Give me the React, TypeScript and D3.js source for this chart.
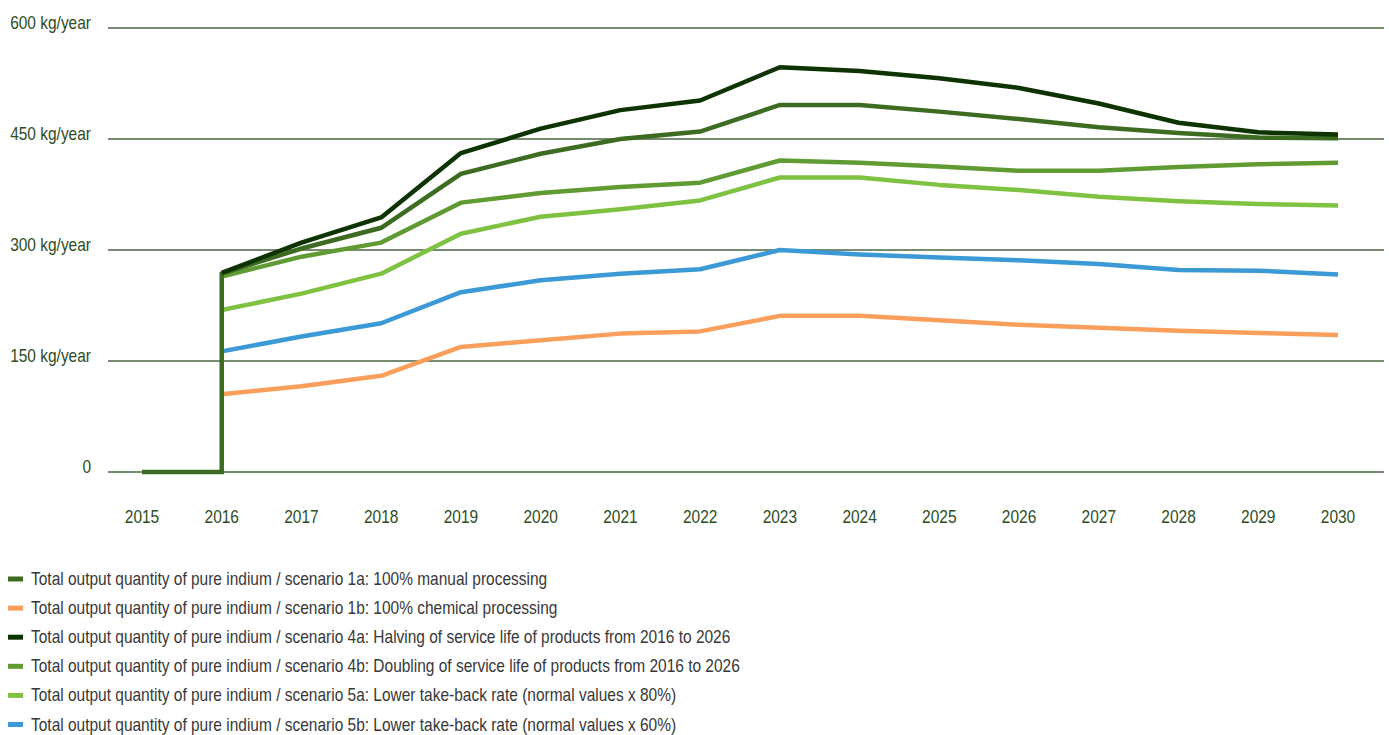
import * as d3 from 'd3';
import React from 'react';

const years = [2016, 2017, 2018, 2019, 2020, 2021, 2022, 2023, 2024, 2025, 2026, 2027, 2028, 2029, 2030];
const axisYears = [2015, 2016, 2017, 2018, 2019, 2020, 2021, 2022, 2023, 2024, 2025, 2026, 2027, 2028, 2029, 2030];
const yTicks = [0, 150, 300, 450, 600];

// scenario 1a starts flat at zero before jumping up in 2016
const rampYears = [2015, 2016];
const rampValues = [0, 0];

const s1a = [268, 302, 330, 403, 430, 450, 460, 496, 496, 487, 477, 466, 458, 452, 451];
const s1b = [105, 116, 130, 169, 178, 187, 190, 211, 211, 205, 199, 195, 191, 188, 185];
const s4a = [269, 310, 344, 431, 464, 489, 502, 547, 542, 532, 519, 498, 472, 459, 456];
const s4b = [264, 291, 310, 364, 377, 385, 391, 421, 418, 413, 407, 407, 412, 416, 418];
const s5a = [219, 241, 268, 322, 345, 355, 367, 398, 398, 388, 381, 372, 366, 362, 360];
const s5b = [163, 183, 201, 243, 259, 268, 274, 300, 294, 290, 286, 281, 273, 272, 267];

const labels = [
  'Total output quantity of pure indium / scenario 1a: 100% manual processing',
  'Total output quantity of pure indium / scenario 1b: 100% chemical processing',
  'Total output quantity of pure indium / scenario 4a: Halving of service life of products from 2016 to 2026',
  'Total output quantity of pure indium / scenario 4b: Doubling of service life of products from 2016 to 2026',
  'Total output quantity of pure indium / scenario 5a: Lower take-back rate (normal values x 80%)',
  'Total output quantity of pure indium / scenario 5b: Lower take-back rate (normal values x 60%)',
];
const colors = ['#3d6b21', '#f99f5b', '#0c3300', '#5f9b32', '#7fc242', '#3b99d6'];

type Pt = { year: number; value: number };

const font = '"Liberation Sans", Arial, sans-serif';
const squeeze = 0.88; // the original type is a narrow face

function Label(props: { x: number; y: number; anchor?: string; fill: string; children: React.ReactNode }) {
  return (
    <text
      transform={`translate(${props.x},${props.y}) scale(${squeeze},1)`}
      textAnchor={props.anchor || 'start'}
      fontFamily={font}
      fontSize={17.6}
      fill={props.fill}
    >
      {props.children}
    </text>
  );
}

function App() {
  const width = 1389;
  const height = 735;
  const textColor = '#2e4d25';

  const x = d3.scaleLinear().domain([2015, 2030]).range([142, 1338]);
  const y = d3.scaleLinear().domain([0, 600]).range([472, 28]);

  const line = d3.line<Pt>()
    .x((d) => x(d.year))
    .y((d) => y(d.value));

  const toPts = (vals: number[]): Pt[] => vals.map((v, i) => ({ year: years[i], value: v }));
  const ramp: Pt[] = rampYears.map((yr, i) => ({ year: yr, value: rampValues[i] }));

  const series = [s1a, s1b, s4a, s4b, s5a, s5b];
  // draw order: back to front
  const order = [5, 4, 3, 1, 0, 2];

  return (
    <svg width={width} height={height} style={{ position: 'absolute', left: 0, top: 0 }}>
      <rect width={width} height={height} fill="#ffffff" />
      <g>
        {yTicks.map((t) => (
          <g key={t}>
            <line x1={108} x2={1384} y1={y(t)} y2={y(t)} stroke="#4a6541" strokeWidth={1.5} />
            <Label x={91} y={y(t) + 0.5} anchor="end" fill={textColor}>
              {t === 0 ? '0' : `${t} kg/year`}
            </Label>
          </g>
        ))}
      </g>
      <g>
        {axisYears.map((yr) => (
          <Label key={yr} x={x(yr)} y={522.5} anchor="middle" fill={textColor}>
            {yr}
          </Label>
        ))}
      </g>
      <g fill="none" strokeWidth={4.5} strokeLinejoin="round">
        {order.map((i) => {
          const pts = i === 0 ? ramp.concat(toPts(series[i])) : toPts(series[i]);
          return <path key={i} d={line(pts) || ''} stroke={colors[i]} strokeLinejoin={i === 0 ? 'miter' : 'round'} />;
        })}
      </g>
      <g>
        {labels.map((l, i) => (
          <g key={l} transform={`translate(0, ${585 + i * 29.1})`}>
            <rect x={8} y={-8.5} width={15} height={5} fill={colors[i]} />
            <Label x={31} y={0} fill="#383838">
              {l}
            </Label>
          </g>
        ))}
      </g>
    </svg>
  );
}

export default App;
